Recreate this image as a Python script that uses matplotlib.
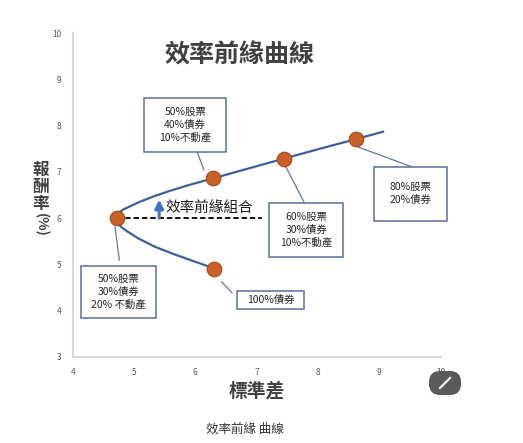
import matplotlib
matplotlib.use("Agg")
import matplotlib.pyplot as plt
from matplotlib.patches import Rectangle, FancyBboxPatch
from matplotlib.transforms import IdentityTransform

plt.rcParams['font.family'] = ['Noto Sans CJK TC', 'DejaVu Sans']

# ---- data ----
curve_x = [6.31, 6.16, 5.88, 5.61, 5.34, 5.07, 4.88, 4.80, 4.76, 4.73, 4.715,
           4.71,
           4.72, 4.745, 4.78, 4.83, 4.96, 5.07, 5.34, 5.61, 5.88, 6.15, 6.29,
           6.80, 7.45, 8.00, 8.62, 9.06]
curve_y = [4.90, 4.98, 5.11, 5.24, 5.38, 5.56, 5.72, 5.80, 5.85, 5.91, 5.95,
           6.00,
           6.05, 6.10, 6.145, 6.19, 6.27, 6.34, 6.48, 6.60, 6.71, 6.81, 6.86,
           7.05, 7.29, 7.49, 7.71, 7.87]
point_x = [4.72, 6.29, 7.45, 8.62, 6.31]
point_y = [6.00, 6.86, 7.29, 7.71, 4.90]
labels = ["50%股票\n30%債券\n20% 不動產",
          "50%股票\n40%債券\n10%不動產",
          "60%股票\n30%債券\n10%不動產",
          "80%股票\n20%債券",
          "100%債券"]
x_ticks = [4, 5, 6, 7, 8, 9, 10]
y_ticks = [3, 4, 5, 6, 7, 8, 9, 10]

# box layout (x0, y0, x1, y1) and leader line ends in data units
boxes = [(4.14, 3.84, 5.36, 4.96), (5.17, 7.43, 6.50, 8.60),
         (7.20, 5.16, 8.41, 6.33), (8.91, 5.94, 10.10, 7.11),
         (6.68, 4.04, 7.77, 4.43)]
leaders = [((4.76, 5.09), (4.69, 5.81)), ((6.03, 7.43), (6.14, 7.04)),
           ((7.77, 6.35), (7.46, 7.15)), ((9.53, 7.11), (8.65, 7.54)),
           ((6.60, 4.38), (6.43, 4.62))]

W, H = 523, 443
fig = plt.figure(figsize=(W / 100, H / 100), dpi=100)
ax = fig.add_axes([72.7 / W, 1 - 356.7 / H, (440.7 - 72.7) / W, (356.7 - 33.3) / H])
ax.set_xlim(4, 10)
ax.set_ylim(3, 10)
ax.set_xticks(x_ticks)
ax.set_yticks(y_ticks)
for s in ['top', 'right']:
    ax.spines[s].set_visible(False)
for s in ['left', 'bottom']:
    ax.spines[s].set_color('#d9d9d9')
    ax.spines[s].set_linewidth(1.5)
ax.tick_params(length=0, labelsize=6, colors='#595959', pad=8)

line_col = '#3f5f99'
ax.plot(curve_x, curve_y, color=line_col, lw=1.6, zorder=3,
        solid_joinstyle='round')

# dashed line & arrow
ax.plot([point_x[0], 7.09], [point_y[0], point_y[0]], color='black', lw=1.3,
        ls=(0, (3, 1.6)), zorder=2)
ax.annotate('', xy=(5.41, 6.40), xytext=(5.41, 6.0),
            arrowprops=dict(arrowstyle='-|>,head_width=0.25,head_length=0.5',
                            color='#4472c4', lw=2.2, shrinkA=0, shrinkB=0))
ax.text(5.52, 6.20, '效率前緣組合', fontsize=10.5, color='#1a1a1a',
        va='center', ha='left')

# leaders and boxes
for (a, b) in leaders:
    ax.plot([a[0], b[0]], [a[1], b[1]], color='#6478a8', lw=0.9, zorder=2,
            clip_on=False)
for (x0, y0, x1, y1), lab in zip(boxes, labels):
    ax.add_patch(Rectangle((x0, y0), x1 - x0, y1 - y0, facecolor='white',
                           edgecolor='#5b6e9c', lw=1.1, zorder=4, clip_on=False))
    ax.text((x0 + x1) / 2, (y0 + y1) / 2, lab, ha='center', va='center',
            fontsize=7.5, color='#262626', linespacing=1.35, zorder=5)

ax.scatter(point_x, point_y, s=110, color='#cc6128', edgecolor='#9a4a20',
           lw=0.8, zorder=6, clip_on=False)

# titles / labels
fig.text(240 / W, 1 - 55 / H, '效率前緣曲線', fontsize=18, ha='center',
         va='center', color='#404040', fontweight='bold')
fig.text(257 / W, 1 - 391 / H, '標準差', fontsize=13.5, ha='center',
         va='center', color='#404040', fontweight='bold')
for ch, yy in zip('報酬率', [170, 187, 204]):
    fig.text(41 / W, 1 - yy / H, ch, fontsize=12, ha='center', va='center',
             color='#404040', fontweight='bold')
fig.text(41 / W, 1 - 225 / H, '(%)', fontsize=10, ha='center', va='center',
         color='#404040', fontweight='bold', rotation=-90)
fig.text(245 / W, 1 - 429 / H, '效率前緣 曲線', fontsize=9, ha='center',
         va='center', color='#333333')

# overlay button (pixel coordinates)
fig.patches.append(FancyBboxPatch((429, H - 395), 32, 24,
                                  boxstyle='round,pad=0,rounding_size=11',
                                  transform=IdentityTransform(),
                                  facecolor='#5a5a5a', edgecolor='none',
                                  zorder=10))
fig.lines.append(plt.Line2D([440, 450], [H - 388, H - 378],
                            transform=IdentityTransform(), color='white',
                            lw=1.5, zorder=11))

fig.savefig('out.png', dpi=100)
